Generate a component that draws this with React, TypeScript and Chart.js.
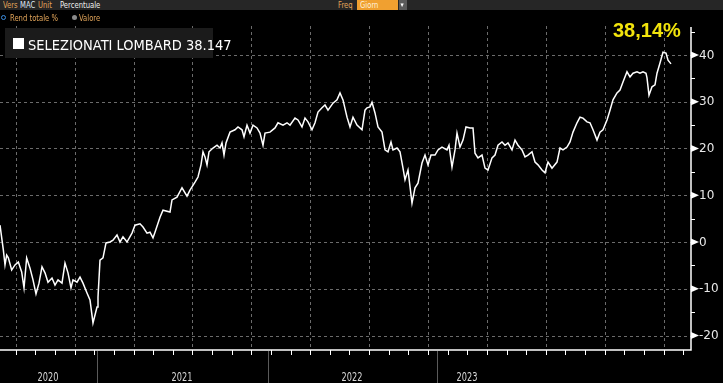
import React, { useEffect, useRef } from "react";
import { Chart, registerables } from "chart.js";

Chart.register(...registerables);

// ---- data (x = weeks from the first observation, y = total return %) ----
const WEEKS = [
  0, 1.0, 1.5, 2.0, 2.5, 3.5, 4.5, 5.5, 6.5, 7.2,
  8.0, 9.0, 9.9, 10.8, 11.7, 12.6, 13.5, 14.4, 15.6, 16.5,
  17.4, 18.6, 19.5, 20.4, 21.3, 21.9, 23.1, 24.0, 24.9, 26.1,
  27.0, 27.9, 29.1, 29.4, 30.0, 30.9, 31.8, 33.0, 33.9, 35.1,
  36.0, 36.9, 38.1, 39.6, 40.5, 42.0, 42.9, 44.1, 45.0, 45.9,
  46.5, 48.0, 48.9, 51.0, 51.6, 53.1, 54.6, 56.1, 57.0, 58.5,
  59.4, 60.3, 60.9, 61.5, 62.1, 62.7, 63.9, 65.1, 66.0, 66.6,
  67.2, 67.8, 69.0, 70.5, 71.4, 72.6, 73.2, 74.1, 75.0, 75.9,
  77.1, 78.0, 78.9, 79.5, 81.0, 82.5, 83.4, 84.9, 86.1, 87.0,
  88.5, 89.4, 90.6, 91.5, 92.4, 93.6, 94.5, 95.4, 96.6, 97.5,
  98.4, 99.9, 101.1, 102.0, 102.9, 104.1, 105.0, 105.9, 107.1, 108.6,
  109.5, 110.1, 111.0, 111.6, 112.5, 113.4, 114.6, 115.5, 116.4, 117.3,
  117.9, 119.1, 120.0, 120.9, 121.5, 122.4, 123.6, 124.5, 125.4, 126.6,
  127.5, 128.4, 129.3, 130.5, 131.4, 132.6, 134.1, 134.7, 135.6, 136.5,
  137.1, 138.0, 138.9, 139.8, 141.0, 141.9, 142.5, 143.4, 144.6, 145.5,
  146.4, 147.6, 148.5, 149.4, 150.6, 151.5, 152.4, 153.6, 154.5, 155.4,
  156.6, 157.5, 158.4, 159.6, 160.5, 161.4, 162.6, 163.5, 164.4, 165.6,
  167.1, 168.0, 168.9, 170.1, 171.0, 171.9, 173.1, 174.0, 174.9, 176.1,
  177.0, 177.9, 179.1, 180.0, 180.9, 182.1, 183.0, 183.9, 185.1, 186.0,
  186.9, 188.1, 189.0, 189.9, 191.1, 192.0, 192.9, 193.8, 194.1, 194.7,
  195.6, 196.5, 197.1, 198.0, 198.9, 199.8, 200.4, 201.3,
];

const VALUES = [
  3.6, -1.7, -4.9, -2.8, -3.4, -6.0, -4.9, -4.3, -6.4, -9.8,
  -3.4, -5.6, -8.1, -11.1, -8.8, -5.3, -6.6, -8.6, -7.7, -9.2,
  -8.1, -8.8, -4.5, -6.6, -9.8, -8.1, -8.6, -7.5, -8.8, -10.9,
  -12.4, -17.3, -13.9, -11.8, -3.9, -3.4, -0.2, 0.0, 0.4, 1.5,
  0.0, 1.1, 0.0, 1.9, 3.6, 3.9, 3.2, 1.9, 2.1, 0.9,
  2.1, 5.3, 6.8, 6.4, 9.0, 9.6, 11.6, 9.8, 11.1, 12.8,
  13.9, 16.5, 19.3, 18.2, 16.5, 19.3, 20.1, 20.7, 20.1, 21.2,
  18.6, 21.2, 23.5, 24.0, 24.6, 24.0, 22.5, 25.0, 23.3, 25.0,
  24.4, 23.3, 20.7, 23.3, 23.5, 24.4, 25.5, 25.0, 25.5, 25.0,
  26.5, 26.1, 24.6, 26.5, 25.7, 24.0, 25.5, 27.8, 28.7, 29.3,
  28.2, 29.7, 30.4, 31.9, 30.4, 26.7, 24.6, 26.7, 25.0, 24.0,
  28.2, 28.7, 28.9, 29.9, 27.6, 24.6, 23.5, 19.7, 19.3, 21.4,
  19.7, 20.1, 19.3, 15.8, 13.3, 15.4, 8.3, 11.6, 12.6, 16.9,
  18.6, 16.5, 18.6, 18.6, 19.7, 20.3, 19.7, 20.7, 16.0, 19.7,
  23.3, 20.3, 21.8, 24.6, 24.4, 24.4, 19.0, 18.0, 18.6, 15.8,
  15.4, 18.0, 18.6, 20.7, 21.4, 20.7, 21.2, 19.7, 21.8, 20.7,
  19.7, 18.2, 18.6, 19.3, 17.1, 16.5, 15.4, 14.8, 17.1, 15.8,
  17.1, 20.1, 19.7, 20.3, 21.4, 23.5, 25.5, 26.7, 26.5, 25.7,
  25.5, 24.0, 21.8, 23.5, 24.0, 26.1, 28.2, 30.4, 31.9, 32.5,
  34.2, 36.4, 35.3, 36.1, 36.4, 36.1, 36.4, 36.1, 35.1, 31.4,
  33.2, 33.6, 36.1, 38.3, 40.6, 40.4, 38.9, 38.1,
];

const SERIES_NAME = "SELEZIONATI LOMBARD";
const LAST_VALUE = "38.147";
const LAST_PCT = "38,14%";

const Y_MAJOR = [-20, -10, 0, 10, 20, 30, 40];
const Y_MINOR = [-15, -5, 5, 15, 25, 35, 45];
const Y_MIN = -23.1;
const Y_MAX = 46.2;

const X_MAX = 207.3;
const X_TICK_START = 4.71;
const X_TICK_STEP = 5.89;
const X_TICK_COUNT = 35;
const X_GRID_EVERY = 3;

const YEAR_LABELS = ["2020", "2021", "2022", "2023"];
const YEAR_LABEL_AT = [14.4, 54.6, 105.6, 140.1];
const YEAR_BREAKS = [29.1, 80.4, 131.1];

const NARROW = '"Liberation Sans Narrow", "Arial Narrow", "DejaVu Sans Condensed", sans-serif';
const COND = '"DejaVu Sans Condensed", "DejaVu Sans", sans-serif';

const bloombergAxes = {
  id: "bloombergAxes",
  beforeDatasetsDraw(chart: any) {
    const { ctx, chartArea, scales } = chart;
    const x = scales.x;
    const y = scales.y;
    ctx.save();
    ctx.strokeStyle = "#6b6b6b";
    ctx.lineWidth = 1;
    ctx.setLineDash([3, 3]);
    Y_MAJOR.forEach((v) => {
      const py = Math.round(y.getPixelForValue(v)) + 0.5;
      ctx.beginPath();
      ctx.moveTo(chartArea.left, py);
      ctx.lineTo(chartArea.right, py);
      ctx.stroke();
    });
    for (let k = 0; k < X_TICK_COUNT; k += X_GRID_EVERY) {
      const px = Math.round(x.getPixelForValue(X_TICK_START + k * X_TICK_STEP)) + 0.5;
      ctx.beginPath();
      ctx.moveTo(px, chartArea.top);
      ctx.lineTo(px, chartArea.bottom);
      ctx.stroke();
    }
    ctx.restore();
  },
  afterDatasetsDraw(chart: any) {
    const { ctx, chartArea, scales, height } = chart;
    const x = scales.x;
    const y = scales.y;
    const ax = chartArea.right;
    const ay = chartArea.bottom;
    ctx.save();
    ctx.setLineDash([]);
    ctx.strokeStyle = "#ffffff";
    ctx.fillStyle = "#ffffff";
    ctx.lineWidth = 1.5;
    ctx.beginPath();
    ctx.moveTo(chartArea.left, ay);
    ctx.lineTo(ax, ay);
    ctx.lineTo(ax, chartArea.top + 1);
    ctx.stroke();
    ctx.lineWidth = 1;
    for (let k = 0; k < X_TICK_COUNT; k++) {
      const px = Math.round(x.getPixelForValue(X_TICK_START + k * X_TICK_STEP)) + 0.5;
      ctx.beginPath();
      ctx.moveTo(px, ay);
      ctx.lineTo(px, ay + 5);
      ctx.stroke();
    }
    Y_MINOR.forEach((v) => {
      const py = Math.round(y.getPixelForValue(v)) + 0.5;
      ctx.beginPath();
      ctx.moveTo(ax, py);
      ctx.lineTo(ax + 4, py);
      ctx.stroke();
    });
    ctx.font = '12px "DejaVu Sans", sans-serif';
    ctx.textBaseline = "middle";
    ctx.textAlign = "left";
    Y_MAJOR.forEach((v) => {
      const py = y.getPixelForValue(v);
      ctx.fillStyle = "#ffffff";
      ctx.beginPath();
      ctx.moveTo(ax, py - 3.5);
      ctx.lineTo(ax + 8, py);
      ctx.lineTo(ax, py + 3.5);
      ctx.closePath();
      ctx.fill();
      ctx.fillStyle = "#e8e8e8";
      ctx.fillText(String(v), ax + 8, py + 0.5);
    });
    ctx.strokeStyle = "#5a5a5a";
    ctx.lineWidth = 1;
    YEAR_BREAKS.forEach((w) => {
      const px = Math.round(x.getPixelForValue(w)) + 0.5;
      ctx.beginPath();
      ctx.moveTo(px, ay + 1);
      ctx.lineTo(px, height);
      ctx.stroke();
    });
    ctx.fillStyle = "#d8d8d8";
    ctx.font = "12px " + COND;
    ctx.textAlign = "center";
    ctx.textBaseline = "alphabetic";
    YEAR_LABELS.forEach((lab, i) => {
      const cx = x.getPixelForValue(YEAR_LABEL_AT[i]);
      ctx.save();
      ctx.translate(cx, ay + 31);
      ctx.scale(0.76, 1);
      ctx.fillText(lab, 0, 0);
      ctx.restore();
    });
    ctx.restore();
  },
};

export default function App() {
  const canvasRef = useRef<HTMLCanvasElement | null>(null);

  useEffect(() => {
    const canvas = canvasRef.current;
    if (!canvas) return;
    const chart = new Chart(canvas, {
      type: "line",
      data: {
        datasets: [
          {
            label: SERIES_NAME,
            data: WEEKS.map((w, i) => ({ x: w, y: VALUES[i] })),
            borderColor: "#ffffff",
            borderWidth: 1.5,
            pointRadius: 0,
            tension: 0,
            fill: false,
          },
        ],
      },
      options: {
        responsive: false,
        animation: false,
        devicePixelRatio: 1,
        layout: { padding: { left: 0, right: 32, top: 26, bottom: 33 } },
        plugins: { legend: { display: false }, tooltip: { enabled: false } },
        scales: {
          x: { type: "linear", min: 0, max: X_MAX, display: false },
          y: { type: "linear", min: Y_MIN, max: Y_MAX, display: false },
        },
      },
      plugins: [bloombergAxes],
    });
    return () => chart.destroy();
  }, []);

  const hdr: React.CSSProperties = {
    position: "absolute",
    fontFamily: COND,
    fontSize: "9.5px",
    lineHeight: "9.5px",
    whiteSpace: "nowrap",
    transform: "scaleX(0.8)",
    transformOrigin: "0 0",
  };
  const tan = "#e2a55a";

  return (
    <div
      style={{
        position: "fixed",
        left: 0,
        top: 0,
        width: 723,
        height: 383,
        background: "#000",
        overflow: "hidden",
      }}
    >
      <canvas ref={canvasRef} width={723} height={383} style={{ position: "absolute", left: 0, top: 0 }} />
      {/* header row 1 */}
      <div style={{ position: "absolute", left: 0, top: 0, width: 723, height: 10, background: "#262626" }} />
      <div style={{ ...hdr, left: 3, top: 0, color: tan }}>Vers</div>
      <div style={{ ...hdr, left: 20, top: 0, color: "#dfe8f5" }}>MAC</div>
      <div style={{ ...hdr, left: 38, top: 0, color: tan }}>Unit</div>
      <div style={{ ...hdr, left: 60, top: 0, color: "#f0f0f0" }}>Percentuale</div>
      <div style={{ ...hdr, left: 338, top: 0, color: tan }}>Freq</div>
      <div style={{ position: "absolute", left: 357, top: 0, width: 41, height: 10, background: "#f0a030" }} />
      <div style={{ ...hdr, left: 360, top: 0, color: "#fff2dc" }}>Giorn</div>
      <div style={{ position: "absolute", left: 399, top: 0, width: 8, height: 10, background: "#5a5a5a" }} />
      <div style={{ ...hdr, left: 400.5, top: 1, color: "#ffffff", fontSize: "7px", transform: "none" }}>▾</div>
      {/* header row 2 */}
      <div
        style={{
          position: "absolute",
          left: 1,
          top: 14.5,
          width: 3,
          height: 3,
          borderRadius: "50%",
          border: "1.2px solid #3c8ee0",
        }}
      />
      <div style={{ ...hdr, left: 9.5, top: 12.5, color: tan }}>Rend totale %</div>
      <div
        style={{
          position: "absolute",
          left: 72,
          top: 14.5,
          width: 5,
          height: 5,
          borderRadius: "50%",
          background: "#8a8a8a",
        }}
      />
      <div style={{ ...hdr, left: 79, top: 12.5, color: tan }}>Valore</div>
      {/* legend box */}
      <div style={{ position: "absolute", left: 5, top: 28, width: 208, height: 30, background: "#1b1b1b" }} />
      <div style={{ position: "absolute", left: 13, top: 38, width: 11, height: 11, background: "#ffffff" }} />
      <div
        style={{
          position: "absolute",
          left: 28,
          top: 38.1,
          fontFamily: NARROW,
          fontSize: "14.5px",
          lineHeight: "14.5px",
          color: "#ffffff",
          whiteSpace: "nowrap",
        }}
      >
        {SERIES_NAME} {LAST_VALUE}
      </div>
      {/* last value label */}
      <div
        style={{
          position: "absolute",
          left: 613,
          top: 20.1,
          fontFamily: '"Liberation Sans", Arial, sans-serif',
          fontWeight: "bold",
          fontSize: "20px",
          lineHeight: "20px",
          color: "#f2e40c",
          whiteSpace: "nowrap",
        }}
      >
        {LAST_PCT}
      </div>
    </div>
  );
}
